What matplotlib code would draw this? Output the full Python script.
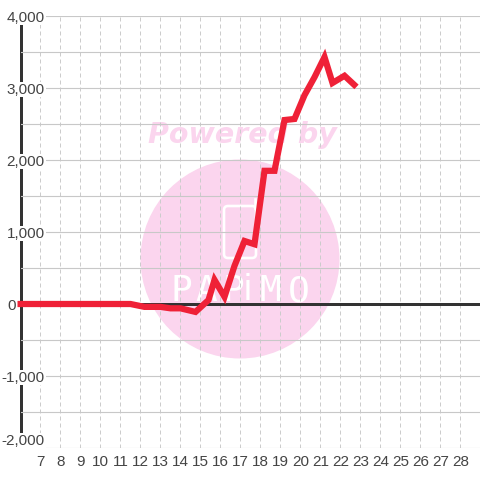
import matplotlib
matplotlib.use('Agg')
import matplotlib.pyplot as plt
from matplotlib.patches import Circle, FancyBboxPatch

plt.rcParams['font.family'] = ['Liberation Sans', 'DejaVu Sans']

hours = [5.85, 7, 8, 9, 10, 11, 11.5, 12.2, 13, 13.5, 14, 14.3, 14.75, 15.4, 15.7, 16.2, 16.7,
         17.2, 17.7, 18.2, 18.7, 19.2, 19.7, 20.2, 20.7, 21.2, 21.6, 22.2, 22.8]
values = [0, 0, 0, 0, 0, 0, 0, -40, -40, -60, -60, -80, -110, 55, 335, 100, 530,
          875, 830, 1850, 1850, 2555, 2570, 2900, 3150, 3430, 3070, 3170, 3015]
x_ticks = list(range(7, 29))
y_major = [-2000, -1000, 0, 1000, 2000, 3000, 4000]
y_minor = [-1500, -500, 500, 1500, 2500, 3500]
watermark_letters = ['P', 'A', 'P', 'i', 'M', 'O']
letter_px = [181, 206, 233, 248, 270, 299]

fig = plt.figure(figsize=(4.8, 4.8), dpi=100, facecolor='white')

# Watermark goes on its own pixel-space axes underneath the chart
bg = fig.add_axes([0, 0, 1, 1], zorder=0)
bg.set_xlim(0, 480)
bg.set_ylim(480, 0)
bg.axis('off')
pink = '#fbd5ee'
bg.add_patch(Circle((240, 259), 99.5, color=pink, lw=0))
bg.text(242, 135, 'Powered by', color=pink, fontsize=20.5, fontweight='bold', fontstyle='italic',
        family='DejaVu Sans', ha='center', va='center')
bg.add_patch(FancyBboxPatch((224, 206), 32, 52, boxstyle='round,pad=0,rounding_size=4',
                            fc='none', ec='white', lw=1.9))
bg.plot([255, 255], [199, 208], color='white', lw=1.9)
for px, letter in zip(letter_px, watermark_letters):
    family = 'Liberation Sans' if letter == 'i' else 'DejaVu Sans Mono'
    bg.text(px, 291, letter, color='white', fontsize=26, family=family,
            ha='center', va='center')

ax = fig.add_axes([20.5 / 480, 32 / 480, 459.5 / 480, 432 / 480], zorder=1)
ax.patch.set_alpha(0)
ax.set_xlim(6, 28.975)
ax.set_ylim(-2000, 4000)

for side in ['top', 'right', 'bottom']:
    ax.spines[side].set_visible(False)
ax.spines['left'].set_color('#333333')
ax.spines['left'].set_linewidth(3 * 0.72)
ax.spines['left'].set_zorder(0.4)
ax.spines['left'].set_bounds(-1830, 3890)

ax.set_xticks(x_ticks)
ax.set_yticks(y_major)
ax.set_yticks(y_minor, minor=True)
# the zero label sits left of the axis line, so it is drawn separately below
ax.set_yticklabels([f'{v:,}' if v != 0 else '' for v in y_major])
ax.set_axisbelow(True)
ax.grid(True, axis='x', color='#cccccc', lw=0.72, ls=(0, (4, 3)))
ax.grid(True, axis='y', which='both', color='#c8c8c8', lw=0.8)
ax.tick_params(axis='both', which='both', length=0, labelsize=11, labelcolor='#444444')
ax.tick_params(axis='x', pad=5)
ax.tick_params(axis='y', pad=-17.5)
for label in ax.get_yticklabels():
    label.set_verticalalignment('center_baseline')
    if label.get_text():
        label.set_bbox(dict(fc='white', ec='none', pad=0.5))
ax.get_yticklabels()[0].set_verticalalignment('bottom')
ax.annotate('0', xy=(0, 0), xycoords=('axes fraction', 'data'), xytext=(-4.5, 0),
            textcoords='offset pixels', ha='right', va='center_baseline', fontsize=11,
            color='#444444', annotation_clip=False)

ax.axhline(0, color='#333333', lw=3 * 0.72, zorder=2)
ax.plot(hours, values, color='#ef2137', lw=4.5, zorder=3, solid_joinstyle='miter',
        solid_capstyle='butt', clip_on=False)

fig.savefig('out.png', dpi=100)
